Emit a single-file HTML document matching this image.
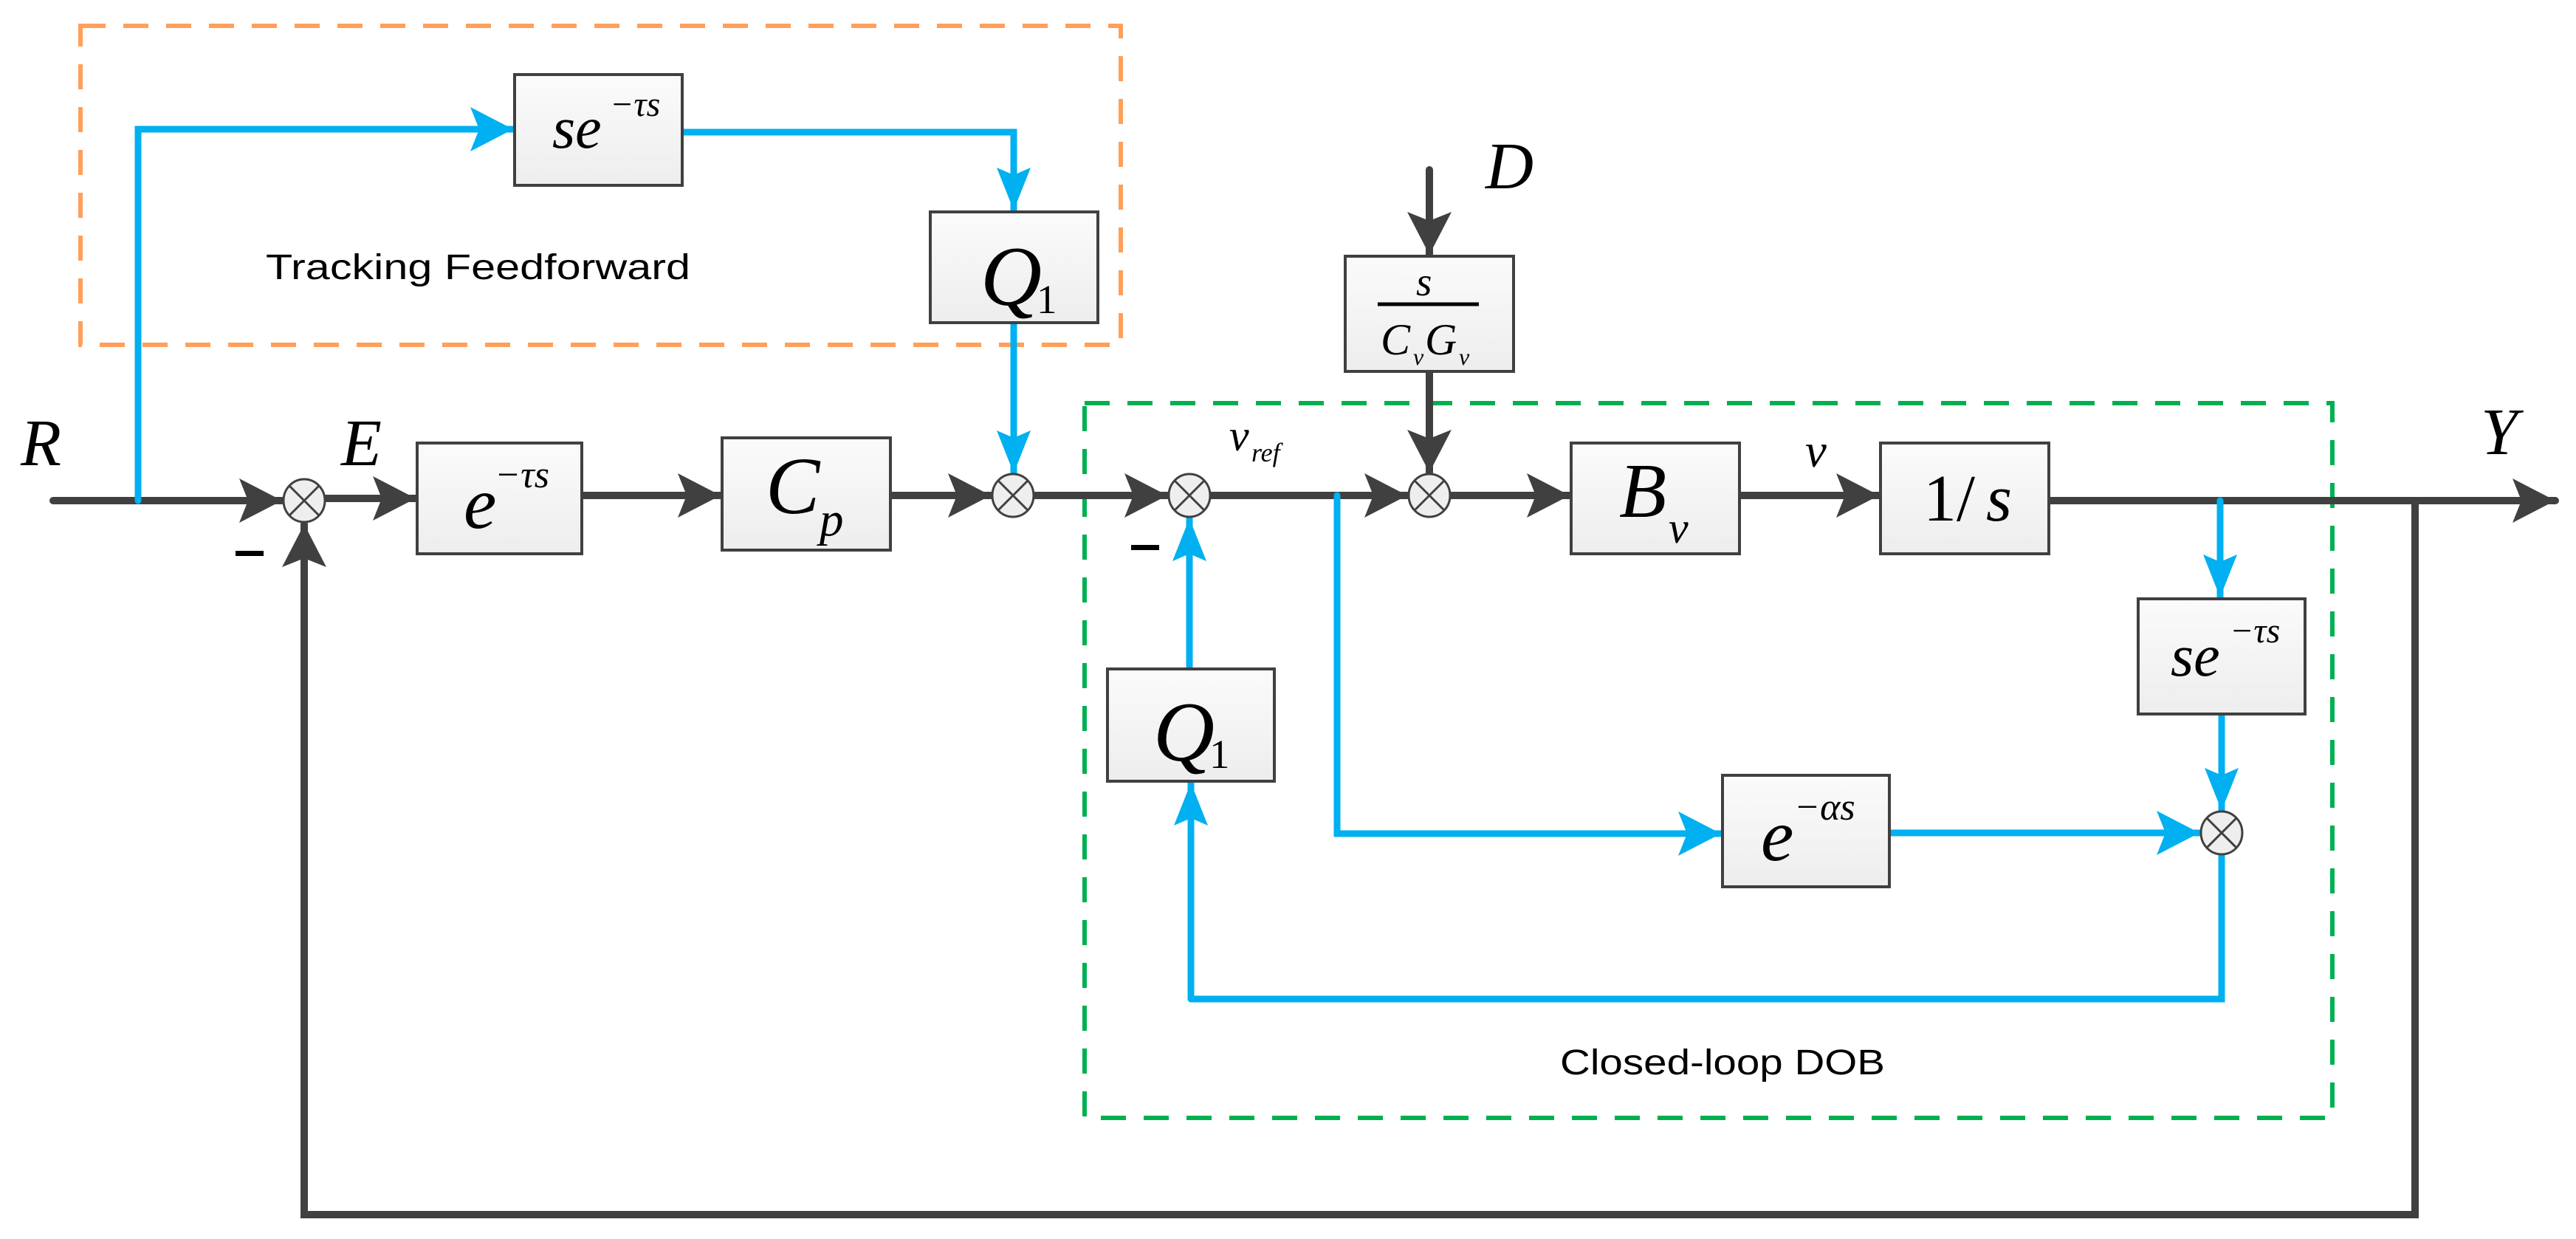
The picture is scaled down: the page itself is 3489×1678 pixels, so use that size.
<!DOCTYPE html>
<html><head><meta charset="utf-8"><style>
html,body{margin:0;padding:0;background:#fff;}
svg{display:block;}
.m{font-family:"Liberation Serif",serif;font-style:italic;fill:#000;}
.s{font-family:"Liberation Sans",sans-serif;fill:#000;}
</style></head><body>
<svg width="3489" height="1678" viewBox="0 0 3489 1678" xmlns="http://www.w3.org/2000/svg">
<defs>
<linearGradient id="g" x1="0" y1="0" x2="0" y2="1"><stop offset="0" stop-color="#fbfbfb"/><stop offset="1" stop-color="#ededed"/></linearGradient>
<marker id="ad" viewBox="0 0 60 64" refX="58" refY="32" markerWidth="60" markerHeight="64" markerUnits="userSpaceOnUse" orient="auto"><path d="M0,2 L58,32 L0,62 L12,32 Z" fill="#404040"/></marker>
<marker id="ab" viewBox="0 0 60 64" refX="58" refY="32" markerWidth="60" markerHeight="64" markerUnits="userSpaceOnUse" orient="auto"><path d="M0,2 L58,32 L0,62 L12,32 Z" fill="#00B0F0"/></marker>
<marker id="abs" viewBox="0 0 60 50" refX="58" refY="25" markerWidth="60" markerHeight="50" markerUnits="userSpaceOnUse" orient="auto"><path d="M0,2 L58,25 L0,48 L10,25 Z" fill="#00B0F0"/></marker>
</defs>

<!-- dashed regions -->
<rect x="109" y="35" width="1409" height="432" fill="none" stroke="#FF9F5A" stroke-width="6" stroke-dasharray="34,24"/>
<rect x="1469" y="546" width="1690" height="968" fill="none" stroke="#00B050" stroke-width="6" stroke-dasharray="34,24"/>

<g fill="none" stroke="#404040" stroke-width="10" stroke-linecap="round">
<path d="M72,678 H382" marker-end="url(#ad)"/>
<path d="M440,675 H563" marker-end="url(#ad)"/>
<path d="M788,671 H976" marker-end="url(#ad)"/>
<path d="M1206,671 H1342" marker-end="url(#ad)"/>
<path d="M1400,671 H1581" marker-end="url(#ad)"/>
<path d="M1639,671 H1906" marker-end="url(#ad)"/>
<path d="M1964,671 H2126" marker-end="url(#ad)"/>
<path d="M2356,671 H2545" marker-end="url(#ad)"/>
<path d="M2775,678 H3461" marker-end="url(#ad)"/>
<path d="M3271,678 V1645 H412 V710" marker-end="url(#ad)"/>
<path d="M1936,230 V345" marker-end="url(#ad)"/>
<path d="M1936,503 V640" marker-end="url(#ad)"/>
</g>
<g fill="none" stroke="#00B0F0" stroke-width="9" stroke-linecap="round">
<path d="M187,678 V175 H695" marker-end="url(#ab)"/>
<path d="M924,179 H1373 V285" marker-end="url(#abs)"/>
<path d="M1373,437 V641" marker-end="url(#abs)"/>
<path d="M1613,1353 V1060" marker-end="url(#abs)"/>
<path d="M1611,906 V702" marker-end="url(#abs)"/>
<path d="M1811,671 V1129 H2331" marker-end="url(#ab)"/>
<path d="M2559,1128 H2979" marker-end="url(#ab)"/>
<path d="M3007,678 V809" marker-end="url(#abs)"/>
<path d="M3009,967 V1098" marker-end="url(#abs)"/>
<path d="M3009,1157 V1353 H1613"/>
</g>

<!-- summing junctions -->
<g stroke="#404040" stroke-width="3" fill="#eeeeee">
<g transform="translate(412,678)"><ellipse rx="28" ry="29"/><path d="M-20,-20 L20,20 M20,-20 L-20,20"/></g>
<g transform="translate(1372,671)"><ellipse rx="28" ry="29"/><path d="M-20,-20 L20,20 M20,-20 L-20,20"/></g>
<g transform="translate(1611,671)"><ellipse rx="28" ry="29"/><path d="M-20,-20 L20,20 M20,-20 L-20,20"/></g>
<g transform="translate(1936,671)"><ellipse rx="28" ry="29"/><path d="M-20,-20 L20,20 M20,-20 L-20,20"/></g>
<g transform="translate(3009,1128)"><ellipse rx="28" ry="29"/><path d="M-20,-20 L20,20 M20,-20 L-20,20"/></g>
</g>

<!-- blocks -->
<g fill="url(#g)" stroke="#404040" stroke-width="4">
<rect x="697" y="101" width="227" height="150"/>
<rect x="1260" y="287" width="227" height="150"/>
<rect x="565" y="600" width="223" height="150"/>
<rect x="978" y="593" width="228" height="152"/>
<rect x="1822" y="347" width="228" height="156"/>
<rect x="2128" y="600" width="228" height="150"/>
<rect x="2547" y="600" width="228" height="150"/>
<rect x="1500" y="906" width="226" height="152"/>
<rect x="2896" y="811" width="226" height="156"/>
<rect x="2333" y="1050" width="226" height="151"/>
</g>

<!-- block labels -->
<text class="m" x="748" y="200" font-size="80">se</text><text class="m" x="826" y="157" font-size="48">−τs</text>
<text class="m" x="1328" y="413" font-size="115">Q</text><text class="s" x="1404" y="424" font-size="55" style="font-family:'Liberation Serif',serif">1</text>
<text class="m" x="628" y="715" font-size="100">e</text><text class="m" x="670" y="660" font-size="52">−τs</text>
<text class="m" x="1037" y="695" font-size="110">C</text><text class="m" x="1110" y="725" font-size="65">p</text>
<text class="m" x="1918" y="400" font-size="55">s</text>
<line x1="1866" y1="412" x2="2003" y2="412" stroke="#000" stroke-width="5"/>
<text class="m" x="1870" y="480" font-size="60">C</text><text class="m" x="1914" y="494" font-size="32">v</text>
<text class="m" x="1930" y="480" font-size="60">G</text><text class="m" x="1976" y="494" font-size="32">v</text>
<text class="m" x="2193" y="700" font-size="105">B</text><text class="m" x="2260" y="735" font-size="60">v</text>
<text x="2605" y="705" font-size="90" style="font-family:'Liberation Serif',serif">1/</text><text class="m" x="2690" y="705" font-size="90">s</text>
<text class="m" x="1562" y="1030" font-size="115">Q</text><text x="1638" y="1040" font-size="55" style="font-family:'Liberation Serif',serif">1</text>
<text class="m" x="2940" y="915" font-size="80">se</text><text class="m" x="3020" y="870" font-size="48">−τs</text>
<text class="m" x="2385" y="1165" font-size="100">e</text><text class="m" x="2430" y="1110" font-size="52">−αs</text>

<!-- signal labels -->
<text class="m" x="28" y="630" font-size="90">R</text>
<text class="m" x="462" y="630" font-size="90">E</text>
<text class="m" x="2012" y="255" font-size="90">D</text>
<text class="m" x="3360" y="615" font-size="90">Y</text>
<text class="m" x="2445" y="632" font-size="65">v</text>
<text class="m" x="1665" y="610" font-size="60">v</text><text class="m" x="1695" y="625" font-size="36">ref</text>
<rect x="319" y="746" width="38" height="7" fill="#000"/>
<rect x="1532" y="738" width="38" height="7" fill="#000"/>
<text class="s" x="360" y="378" font-size="48" textLength="575" lengthAdjust="spacingAndGlyphs">Tracking  Feedforward</text>
<text class="s" x="2113" y="1455" font-size="48" textLength="440" lengthAdjust="spacingAndGlyphs">Closed-loop DOB</text>
</svg>
</body></html>
